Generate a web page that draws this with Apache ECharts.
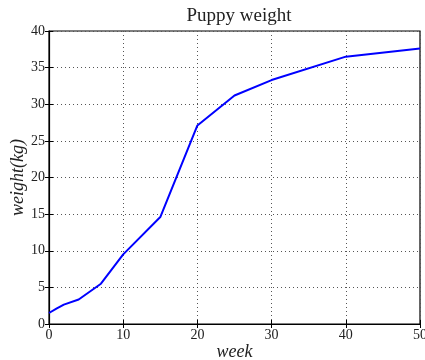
<!DOCTYPE html>
<html>
<head>
<meta charset="utf-8">
<script src="https://cdn.jsdelivr.net/npm/echarts@6/dist/echarts.min.js"></script>
<style>
  html, body { margin: 0; padding: 0; background: #fff; }
  #chart { width: 425px; height: 360px; }
</style>
</head>
<body>
<div id="chart"></div>
<script>
// puppy weight by week
var weeks = [0, 1, 2, 4, 7, 10, 15, 20, 25, 30, 40, 50];
var weights = [1.5, 2.1, 2.65, 3.35, 5.5, 9.5, 14.6, 27.1, 31.2, 33.3, 36.5, 37.6];

var font = 'Liberation Serif';
var chart = echarts.init(document.getElementById('chart'));

var tickStyle = { show: true, inside: true, length: 4, lineStyle: { color: '#000' } };
var gridDots = { show: true, lineStyle: { color: '#555', type: [1, 3], width: 1 } };

chart.setOption({
  animation: false,
  title: {
    text: 'Puppy weight',
    left: 234, top: 2, textAlign: 'center',
    textStyle: { fontFamily: font, fontSize: 19, fontWeight: 'normal', color: '#222' }
  },
  grid: {
    left: 49, right: 5, top: 31, bottom: 36,
    outerBoundsMode: 'none', containLabel: false,
    show: true, borderColor: '#000', borderWidth: 1.2
  },
  xAxis: [{
    type: 'value', min: 0, max: 50, interval: 10,
    name: 'week', nameLocation: 'middle', nameGap: 19, nameMoveOverlap: false,
    nameTextStyle: { fontFamily: font, fontSize: 18, fontStyle: 'italic', color: '#222' },
    axisLine: { show: true, lineStyle: { color: '#000', width: 1.2 } },
    axisTick: tickStyle,
    axisLabel: { fontFamily: font, fontSize: 14, color: '#222', margin: 4 },
    splitLine: gridDots
  }, {
    type: 'value', min: 0, max: 50, interval: 10, position: 'top',
    axisLine: { show: false }, axisTick: tickStyle,
    axisLabel: { show: false }, splitLine: { show: false }
  }],
  yAxis: [{
    type: 'value', min: 0, max: 40, interval: 5,
    name: 'weight(kg)', nameLocation: 'middle', nameGap: 22, nameMoveOverlap: false,
    nameTextStyle: { fontFamily: font, fontSize: 18, fontStyle: 'italic', color: '#222' },
    axisLine: { show: true, lineStyle: { color: '#000', width: 1.2 } },
    axisTick: tickStyle,
    axisLabel: { fontFamily: font, fontSize: 14, color: '#222', margin: 4 },
    splitLine: gridDots
  }, {
    type: 'value', min: 0, max: 40, interval: 5, position: 'right',
    axisLine: { show: false }, axisTick: tickStyle,
    axisLabel: { show: false }, splitLine: { show: false }
  }],
  series: [{
    type: 'line',
    data: weeks.map(function (w, i) { return [w, weights[i]]; }),
    showSymbol: false,
    lineStyle: { color: '#0000ff', width: 2 },
    itemStyle: { color: '#0000ff' }
  }]
});
</script>
</body>
</html>
